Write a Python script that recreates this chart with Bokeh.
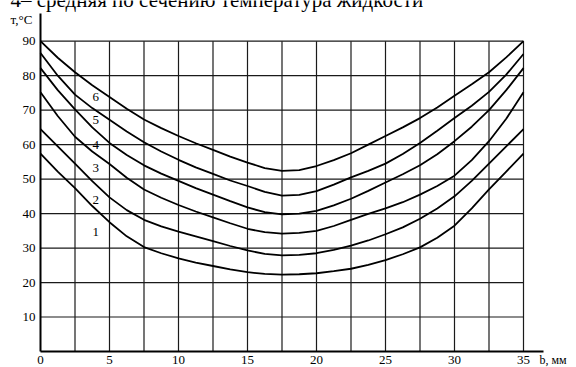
from bokeh.plotting import figure
from bokeh.models import Range1d
from bokeh.core.properties import value
from bokeh.embed import file_html
from bokeh.resources import INLINE

# ---- data ----
b_mm = [0, 1.25, 2.5, 3.75, 5, 6.25, 7.5, 8.75, 10, 11.25, 12.5, 13.75, 15, 16.25, 17.5,
        18.75, 20, 21.25, 22.5, 23.75, 25, 26.25, 27.5, 28.75, 30, 31.25, 32.5, 33.75, 35]
t1 = [57.4, 52.2, 47.4, 42.2, 37.5, 33.4, 30.3, 28.5, 27.0, 25.8, 24.8, 23.8, 23.0, 22.5, 22.3,
      22.4, 22.7, 23.3, 24.0, 25.1, 26.5, 28.2, 30.2, 33.0, 36.5, 41.5, 47.0, 52.2, 57.4]
t2 = [64.5, 59.5, 54.5, 49.4, 44.7, 41.0, 38.2, 36.3, 34.8, 33.4, 32.0, 30.6, 29.3, 28.3, 27.9,
      28.0, 28.5, 29.5, 30.7, 32.2, 34.0, 36.0, 38.5, 41.5, 45.0, 49.5, 54.5, 59.5, 64.5]
t3 = [75.2, 68.3, 62.3, 58.0, 54.4, 50.4, 47.0, 44.6, 42.5, 40.6, 38.9, 37.2, 35.6, 34.6, 34.2,
      34.4, 35.0, 36.4, 38.2, 39.9, 41.5, 43.3, 45.5, 48.0, 51.0, 55.5, 61.0, 67.5, 75.2]
t4 = [82.2, 75.8, 70.2, 65.0, 60.5, 57.0, 54.0, 51.6, 49.5, 47.4, 45.5, 43.6, 41.8, 40.4, 39.8,
      40.0, 40.8, 42.4, 44.3, 46.6, 49.0, 51.4, 54.0, 57.2, 61.0, 65.2, 70.0, 75.8, 82.2]
t5 = [86.6, 80.0, 74.5, 70.6, 67.2, 63.8, 60.7, 58.0, 55.6, 53.4, 51.5, 49.6, 48.0, 46.3, 45.2,
      45.4, 46.5, 48.4, 50.5, 52.4, 54.5, 57.3, 60.5, 64.0, 67.7, 71.3, 75.3, 80.3, 86.3]
t6 = [90.0, 85.2, 81.0, 77.2, 73.8, 70.4, 67.3, 64.8, 62.5, 60.4, 58.5, 56.5, 54.8, 53.2, 52.4,
      52.6, 53.8, 55.5, 57.5, 60.0, 62.5, 65.0, 67.7, 70.8, 74.2, 77.5, 81.0, 85.3, 90.0]
curves = [t1, t2, t3, t4, t5, t6]

curve_names = ["1", "2", "3", "4", "5", "6"]
curve_label_x = [4, 4, 4, 4, 4, 4]
curve_label_y = [34.8, 44.0, 53.3, 60.0, 67.2, 73.9]

x_ticks = [0, 5, 10, 15, 20, 25, 30, 35]
y_ticks = [10, 20, 30, 40, 50, 60, 70, 80, 90]
grid_x = [2.5, 5, 7.5, 10, 12.5, 15, 17.5, 20, 22.5, 25, 27.5, 30, 32.5, 35]
grid_y = [10, 20, 30, 40, 50, 60, 70, 80, 90]

title_text = "4– средняя по сечению температура жидкости"
y_label = "т,°С"
x_label = "b, мм"

FONT = "Liberation Serif"

# ---- layout: frame fills the whole canvas, scales chosen so data box sits like the reference ----
W, H = 576, 367
PX_X0, PX_X35 = 40.0, 523.0      # screen x of b=0 and b=35
PX_Y0, PX_Y90 = 351.0, 40.7      # screen y of T=0 and T=90
sx = (PX_X35 - PX_X0) / 35.0
sy = (PX_Y0 - PX_Y90) / 90.0
x_range = Range1d(-PX_X0 / sx, (W - PX_X0) / sx)
y_range = Range1d(-(H - PX_Y0) / sy, PX_Y0 / sy)
AX_TOP = (PX_Y0 - 13.0) / sy      # y axis line extends above the grid
AX_RIGHT = (543.0 - PX_X0) / sx   # x axis line extends past 35

p = figure(width=W, height=H, x_range=x_range, y_range=y_range,
           x_axis_type=None, y_axis_type=None,
           output_backend="svg", toolbar_location=None,
           min_border=0, min_border_left=0, min_border_right=0,
           min_border_top=0, min_border_bottom=0)
p.outline_line_color = None
p.background_fill_color = "white"
p.border_fill_color = "white"

# grid inside the data box
p.segment(x0=grid_x, x1=grid_x, y0=[0] * len(grid_x), y1=[90] * len(grid_x),
          line_color="#1a1a1a", line_width=1.2)
p.segment(x0=[0] * len(grid_y), x1=[35] * len(grid_y), y0=grid_y, y1=grid_y,
          line_color="#1a1a1a", line_width=1.2)

# axis lines
p.segment(x0=[0, 0], y0=[0, 0], x1=[AX_RIGHT, 0], y1=[0, AX_TOP],
          line_color="black", line_width=2)

# curves
for t in curves:
    p.line(b_mm, t, line_color="black", line_width=1.8)

# tick labels
p.text(x=[0] * len(y_ticks), y=y_ticks, text=[str(v) for v in y_ticks],
       x_offset=-5, text_font=value(FONT), text_font_size="13px", text_color="black",
       text_align="right", text_baseline="middle")
p.text(x=x_ticks, y=[0] * len(x_ticks), text=[str(v) for v in x_ticks],
       y_offset=4, text_font=value(FONT), text_font_size="13px", text_color="black",
       text_align="center", text_baseline="top")

# curve numbers
p.text(x=curve_label_x, y=curve_label_y, text=curve_names,
       text_font=value(FONT), text_font_size="13px", text_color="black",
       text_align="center", text_baseline="middle")

# axis titles and caption
p.text(x=[AX_RIGHT], y=[0], text=[x_label], x_offset=-4, y_offset=8,
       text_font=value(FONT), text_font_size="12px", text_color="black",
       text_align="left", text_baseline="middle")
p.text(x=[0], y=[AX_TOP], text=[y_label], x_offset=-30, y_offset=6,
       text_font=value(FONT), text_font_size="13px", text_color="black",
       text_align="left", text_baseline="middle")
p.text(x=[0], y=[AX_TOP], text=[title_text], x_offset=-30, y_offset=-14,
       text_font=value(FONT), text_font_size="21px", text_color="black",
       text_align="left", text_baseline="alphabetic")

open("out.html", "w").write(file_html(p, INLINE))
